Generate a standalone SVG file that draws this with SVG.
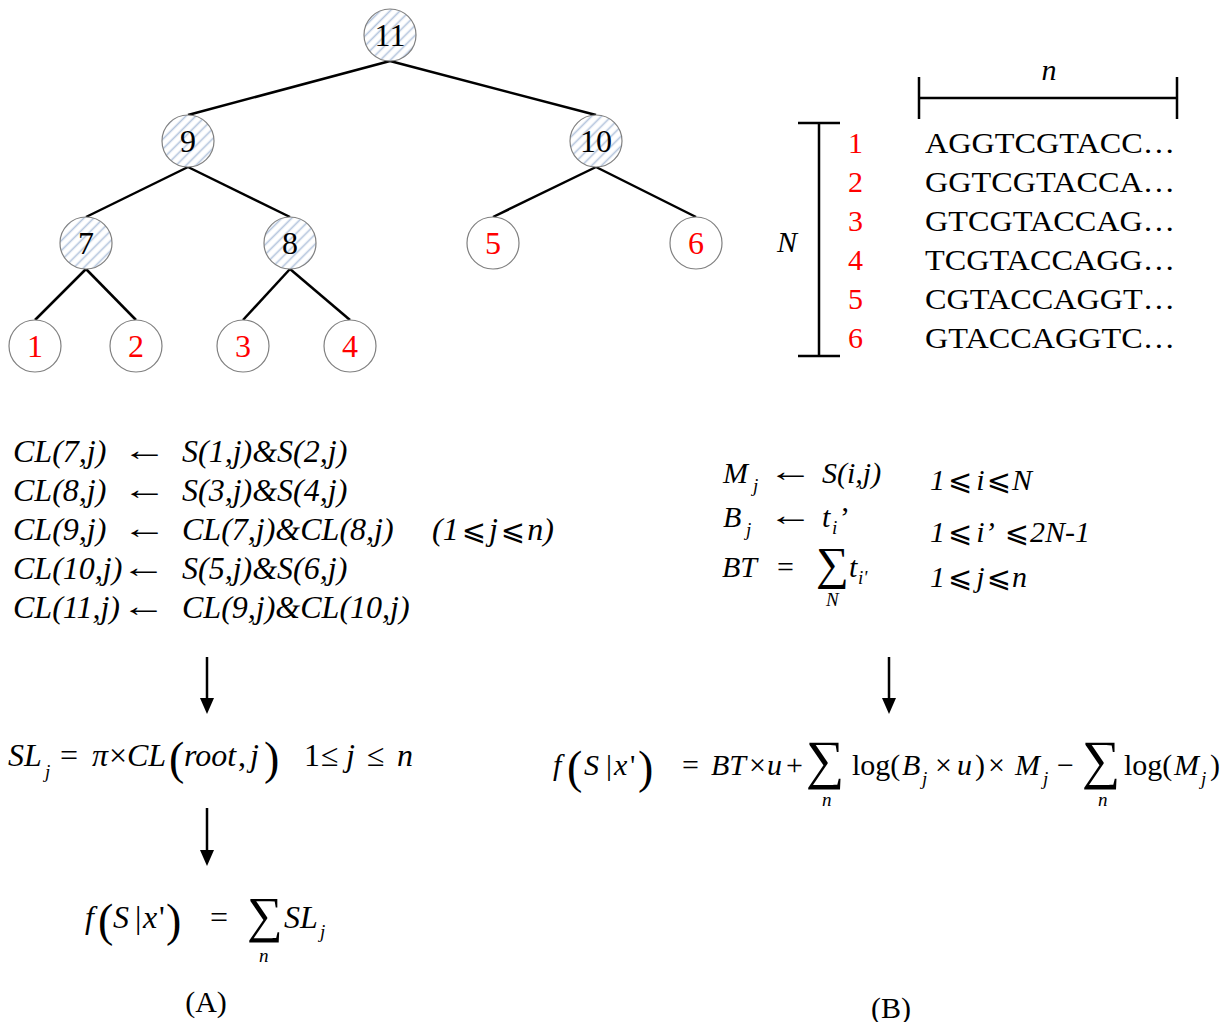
<svg xmlns="http://www.w3.org/2000/svg" width="1226" height="1022" viewBox="0 0 1226 1022">
<defs>
<pattern id="hatch" patternUnits="userSpaceOnUse" width="7" height="7" patternTransform="rotate(45)">
<rect width="7" height="7" fill="#ffffff"/>
<line x1="3.5" y1="0" x2="3.5" y2="7" stroke="#b3c4dd" stroke-width="1.6"/>
</pattern>
<style>
.t{font-family:"Liberation Serif","DejaVu Serif",serif;font-size:30px;fill:#000}
.e{font-size:32px}
.i{font-style:italic}
.r{fill:#ff0000}
.c{text-anchor:middle}
.d{font-size:32px}
.s{font-size:19px}
.big{font-size:46px}
.ar{font-size:30px;font-style:normal}
.le{font-family:"DejaVu Sans",sans-serif;font-size:29px;font-style:normal}
.node{stroke:#808080;stroke-width:1.2}
.edge{stroke:#000;stroke-width:2.5;fill:none}
.ln{stroke:#000;stroke-width:2.5;fill:none}
</style>
</defs>
<rect width="1226" height="1022" fill="#ffffff"/>

<g id="connectors">
<line class="edge" x1="390" y1="61" x2="188" y2="115"/>
<line class="edge" x1="390" y1="61" x2="596" y2="115"/>
<line class="edge" x1="188" y1="167" x2="86" y2="217"/>
<line class="edge" x1="188" y1="167" x2="290" y2="217"/>
<line class="edge" x1="596" y1="167" x2="493" y2="217"/>
<line class="edge" x1="596" y1="167" x2="696" y2="217"/>
<line class="edge" x1="86" y1="269" x2="35" y2="320"/>
<line class="edge" x1="86" y1="269" x2="136" y2="320"/>
<line class="edge" x1="290" y1="269" x2="243" y2="320"/>
<line class="edge" x1="290" y1="269" x2="350" y2="320"/>
</g>

<g id="n11"><circle class="node" cx="390" cy="35" r="26" fill="url(#hatch)"/><text class="t d c" x="390" y="46">11</text></g>
<g id="n9"><circle class="node" cx="188" cy="141" r="26" fill="url(#hatch)"/><text class="t d c" x="188" y="152">9</text></g>
<g id="n10"><circle class="node" cx="596" cy="141" r="26" fill="url(#hatch)"/><text class="t d c" x="596" y="152">10</text></g>
<g id="n7"><circle class="node" cx="86" cy="243" r="26" fill="url(#hatch)"/><text class="t d c" x="86" y="254">7</text></g>
<g id="n8"><circle class="node" cx="290" cy="243" r="26" fill="url(#hatch)"/><text class="t d c" x="290" y="254">8</text></g>
<g id="n5"><circle class="node" cx="493" cy="243" r="26" fill="#fff"/><text class="t d c r" x="493" y="254">5</text></g>
<g id="n6"><circle class="node" cx="696" cy="243" r="26" fill="#fff"/><text class="t d c r" x="696" y="254">6</text></g>
<g id="n1"><circle class="node" cx="35" cy="346" r="26" fill="#fff"/><text class="t d c r" x="35" y="357">1</text></g>
<g id="n2"><circle class="node" cx="136" cy="346" r="26" fill="#fff"/><text class="t d c r" x="136" y="357">2</text></g>
<g id="n3"><circle class="node" cx="243" cy="346" r="26" fill="#fff"/><text class="t d c r" x="243" y="357">3</text></g>
<g id="n4"><circle class="node" cx="350" cy="346" r="26" fill="#fff"/><text class="t d c r" x="350" y="357">4</text></g>

<g id="sequences">
<path class="ln" d="M919 98H1177M919 77V119M1177 77V119"/>
<text class="t i c" x="1049" y="80">n</text>
<path class="ln" d="M819 123V356M798 123H840M798 356H840"/>
<text class="t i" x="777" y="252">N</text>
<text class="t r" x="848" y="153">1</text>
<text class="t r" x="848" y="192">2</text>
<text class="t r" x="848" y="231">3</text>
<text class="t r" x="848" y="270">4</text>
<text class="t r" x="848" y="309">5</text>
<text class="t r" x="848" y="348">6</text>
<text class="t" x="925" y="153" textLength="250" lengthAdjust="spacingAndGlyphs">AGGTCGTACC…</text>
<text class="t" x="925" y="192" textLength="250" lengthAdjust="spacingAndGlyphs">GGTCGTACCA…</text>
<text class="t" x="925" y="231" textLength="250" lengthAdjust="spacingAndGlyphs">GTCGTACCAG…</text>
<text class="t" x="925" y="270" textLength="250" lengthAdjust="spacingAndGlyphs">TCGTACCAGG…</text>
<text class="t" x="925" y="309" textLength="250" lengthAdjust="spacingAndGlyphs">CGTACCAGGT…</text>
<text class="t" x="925" y="348" textLength="250" lengthAdjust="spacingAndGlyphs">GTACCAGGTC…</text>
</g>

<g id="eqA">
<text class="t e i" x="13" y="462">CL(7,j)</text><text class="t ar" transform="translate(122 460) scale(1.5 1)">←</text><text class="t e i" x="182" y="462">S(1,j)&amp;S(2,j)</text>
<text class="t e i" x="13" y="501">CL(8,j)</text><text class="t ar" transform="translate(122 499) scale(1.5 1)">←</text><text class="t e i" x="182" y="501">S(3,j)&amp;S(4,j)</text>
<text class="t e i" x="13" y="540">CL(9,j)</text><text class="t ar" transform="translate(122 538) scale(1.5 1)">←</text><text class="t e i" x="182" y="540">CL(7,j)&amp;CL(8,j)</text>
<text class="t e i" x="432" y="540">(1<tspan class="le" dx="3">⩽</tspan><tspan dx="3">j</tspan><tspan class="le" dx="3">⩽</tspan><tspan dx="2">n)</tspan></text>
<text class="t e i" x="13" y="579">CL(10,j)</text><text class="t ar" transform="translate(121 577) scale(1.5 1)">←</text><text class="t e i" x="182" y="579">S(5,j)&amp;S(6,j)</text>
<text class="t e i" x="13" y="618">CL(11,j)</text><text class="t ar" transform="translate(121 616) scale(1.5 1)">←</text><text class="t e i" x="182" y="618">CL(9,j)&amp;CL(10,j)</text>
</g>

<g id="arrows">
<line class="ln" x1="207" y1="657" x2="207" y2="700" stroke-width="2"/>
<polygon points="200,698 214,698 207,714" fill="#000"/>
<line class="ln" x1="207" y1="808" x2="207" y2="852" stroke-width="2"/>
<polygon points="200,850 214,850 207,866" fill="#000"/>
<line class="ln" x1="889" y1="657" x2="889" y2="700" stroke-width="2"/>
<polygon points="882,698 896,698 889,714" fill="#000"/>
</g>

<g id="eqSL">
<text class="t e i" x="8" y="766">SL</text>
<text class="t i s" x="45" y="778">j</text>
<text class="t e" x="60" y="766">=</text>
<text class="t e i" x="92" y="766">π</text>
<text class="t e" x="109" y="766">×</text>
<text class="t e i" x="127" y="766">CL</text>
<text class="t big" x="169" y="774">(</text>
<text class="t e i" x="184" y="766">root</text>
<text class="t e" x="238" y="766">,</text>
<text class="t e i" x="250" y="766">j</text>
<text class="t big" x="264" y="774">)</text>
<text class="t e" x="304" y="766">1</text>
<text class="t e" x="321" y="766">≤</text>
<text class="t e i" x="346" y="766">j</text>
<text class="t e" x="367" y="766">≤</text>
<text class="t e i" x="397" y="766">n</text>
</g>

<g id="eqSum">
<text class="t e i" x="85" y="928">f</text>
<text class="t big" x="98" y="936">(</text>
<text class="t e i" x="113" y="928">S</text>
<text class="t e" x="135" y="928">|</text>
<text class="t e i" x="143" y="928">x</text>
<text class="t e" x="159" y="928">'</text>
<text class="t big" x="166" y="936">)</text>
<text class="t e" x="210" y="928">=</text>
<text class="t" style="font-size:50px" x="247" y="932">∑</text>
<text class="t i s" x="259" y="962">n</text>
<text class="t e i" x="284" y="928">SL</text>
<text class="t i s" x="320" y="938">j</text>
</g>

<g id="eqB">
<text class="t i" x="723" y="483">M</text><text class="t i s" x="753" y="492">j</text>
<text class="t ar" transform="translate(768 481) scale(1.5 1)">←</text>
<text class="t i" x="822" y="483">S(i,j)</text>
<text class="t i" x="723" y="527">B</text><text class="t i s" x="746" y="536">j</text>
<text class="t ar" transform="translate(768 525) scale(1.5 1)">←</text>
<text class="t i" x="822" y="527">t</text><text class="t i s" x="832" y="534">i</text><text class="t" x="840" y="527">’</text>
<text class="t i" x="722" y="577">BT</text>
<text class="t" x="777" y="577">=</text>
<text class="t" style="font-size:46px" x="816" y="579">∑</text>
<text class="t i" x="849" y="577">t</text><text class="t i s" x="858" y="584">i'</text>
<text class="t i s" x="826" y="606">N</text>
<text class="t i" x="930" y="490">1<tspan class="le" dx="3">⩽</tspan><tspan dx="4">i</tspan><tspan class="le" dx="2">⩽</tspan><tspan dx="1">N</tspan></text>
<text class="t i" x="930" y="542">1<tspan class="le" dx="3">⩽</tspan><tspan dx="4">i’</tspan><tspan class="le" dx="10">⩽</tspan><tspan dx="1">2N-1</tspan></text>
<text class="t i" x="930" y="587">1<tspan class="le" dx="3">⩽</tspan><tspan dx="4">j</tspan><tspan class="le" dx="2">⩽</tspan><tspan dx="1">n</tspan></text>
</g>

<g id="eqF">
<text class="t i" x="553" y="775">f</text>
<text class="t big" x="567" y="783">(</text>
<text class="t i" x="584" y="775">S</text>
<text class="t" x="606" y="775">|</text>
<text class="t i" x="614" y="775">x</text>
<text class="t" x="630" y="775">'</text>
<text class="t big" x="638" y="783">)</text>
<text class="t" x="682" y="775">=</text>
<text class="t i" x="711" y="775">BT</text>
<text class="t" x="749" y="775">×</text>
<text class="t i" x="767" y="775">u</text>
<text class="t" x="786" y="775">+</text>
<text class="t" style="font-size:54px" x="806" y="778">∑</text>
<text class="t i s" x="822" y="806">n</text>
<text class="t" x="852" y="775">log(</text>
<text class="t i" x="902" y="775">B</text>
<text class="t i s" x="922" y="785">j</text>
<text class="t" x="935" y="775">×</text>
<text class="t i" x="957" y="775">u</text>
<text class="t" x="975" y="775">)</text>
<text class="t" x="988" y="775">×</text>
<text class="t i" x="1015" y="775">M</text>
<text class="t i s" x="1043" y="785">j</text>
<text class="t" x="1057" y="775">−</text>
<text class="t" style="font-size:54px" x="1082" y="778">∑</text>
<text class="t i s" x="1098" y="806">n</text>
<text class="t" x="1124" y="775">log(</text>
<text class="t i" x="1174" y="775">M</text>
<text class="t i s" x="1201" y="785">j</text>
<text class="t" x="1210" y="775">)</text>
</g>

<text class="t c" x="206" y="1012">(A)</text>
<text class="t c" x="891" y="1018">(B)</text>
</svg>
